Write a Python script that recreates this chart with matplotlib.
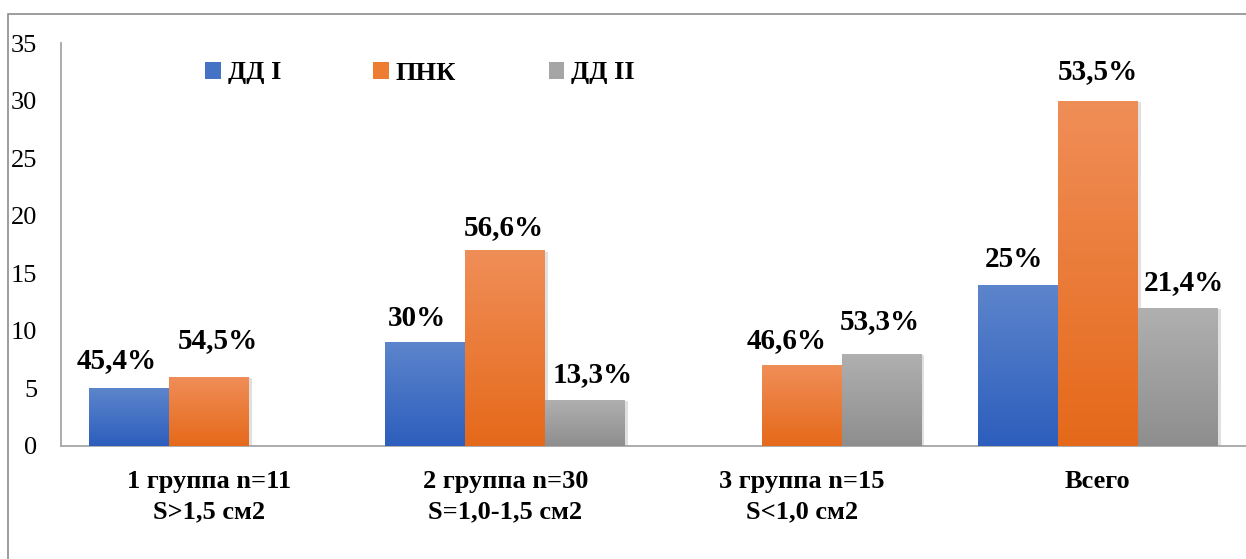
import numpy as np
import matplotlib
matplotlib.use("Agg")
import matplotlib.pyplot as plt
from matplotlib.patches import Rectangle
from matplotlib.colors import LinearSegmentedColormap
import matplotlib.patheffects as pe

plt.rcParams['font.serif'] = ['Liberation Serif', 'Times New Roman', 'DejaVu Serif']
plt.rcParams['font.family'] = ['serif']

categories = ["1 группа n=11\nS>1,5 см2", "2 группа n=30\nS=1,0-1,5 см2",
              "3 группа n=15\nS<1,0 см2", "Всего"]
series_names = ["ДД I", "ПНК", "ДД II"]
dd1 = [5, 9, np.nan, 14]
pnk = [6, 17, 7, 30]
dd2 = [np.nan, 4, 8, 12]
dd1_labels = ["45,4%", "30%", "", "25%"]
pnk_labels = ["54,5%", "56,6%", "46,6%", "53,5%"]
dd2_labels = ["", "13,3%", "53,3%", "21,4%"]
yticks = [0, 5, 10, 15, 20, 25, 30, 35]

# style
top_colors = ["#5D85CC", "#F08E58", "#B0B0B0"]
bot_colors = ["#2D5EBD", "#E5691A", "#8E8E8E"]
legend_colors = ["#4472C4", "#ED7D31", "#A5A5A5"]
offsets = [
    [(-12, 28), (-8, 24), (0, 0), (-4, 25)],
    [(9, 36), (-2, 23), (-15, 25), (0, 29)],
    [(0, 0), (7, 25), (-2, 32), (6, 25)],
]

W, H = 1246, 559
fig = plt.figure(figsize=(W / 100, H / 100), dpi=100)
ax = fig.add_axes([61 / W, 1 - 446 / H, 1 - 61 / W, (446 - 43) / H])

fig.patches.append(Rectangle((8 / W, -0.1), 1.2, 1 - 14 / H + 0.1, transform=fig.transFigure,
                             fill=False, edgecolor="#8C8C8C", linewidth=1.2))

x = np.arange(len(categories))
bw = 0.27
all_vals = [dd1, pnk, dd2]
all_labels = [dd1_labels, pnk_labels, dd2_labels]
grad = np.linspace(0, 1, 256).reshape(-1, 1)
for i, (vals, labs) in enumerate(zip(all_vals, all_labels)):
    xs = x + (i - 1) * bw
    cmap = LinearSegmentedColormap.from_list(f"g{i}", [bot_colors[i], top_colors[i]])
    bars = ax.bar(xs, vals, width=bw, color=legend_colors[i], label=series_names[i], zorder=2,
                  path_effects=[pe.SimplePatchShadow(offset=(2, -1), shadow_rgbFace="#000000", alpha=0.12),
                                pe.Normal()])
    for j, b in enumerate(bars):
        h = b.get_height()
        if not np.isfinite(h) or h == 0:
            continue
        x0, w = b.get_x(), b.get_width()
        im = ax.imshow(grad, extent=[x0, x0 + w, 0, h], origin="lower", cmap=cmap,
                       aspect="auto", zorder=3, interpolation="bilinear")
        im.set_clip_path(b)
        dx, dy = offsets[i][j]
        ax.annotate(labs[j], (x0 + w / 2, h), xytext=(dx * 0.72, dy * 0.72),
                    textcoords="offset points", ha="center", va="center",
                    fontsize=21, fontweight="bold", zorder=5)

ax.set_xlim(-0.5, len(categories) - 0.5)
ax.set_ylim(0, 35)
ax.set_yticks(yticks)
ax.set_xticks(x)
ax.set_xticklabels(categories, fontsize=19, fontweight="bold", linespacing=1.45)
ax.tick_params(axis="y", length=0, pad=17, labelsize=19)
ax.tick_params(axis="x", length=0, pad=17)
for s in ["top", "right"]:
    ax.spines[s].set_visible(False)
for s in ["left", "bottom"]:
    ax.spines[s].set_color("#A6A6A6")
    ax.spines[s].set_linewidth(1.3)
ax.set_zorder(1)

handles = [Rectangle((0, 0), 1, 1, facecolor=c) for c in legend_colors]
fig.legend(handles, series_names, loc="center", bbox_to_anchor=(420 / W, 1 - 73 / H), ncol=3,
           frameon=False, prop={"weight": "bold", "size": 19}, handlelength=0.6, handleheight=0.6,
           handletextpad=0.25, columnspacing=3.5)

fig.savefig("out.png", dpi=100)
